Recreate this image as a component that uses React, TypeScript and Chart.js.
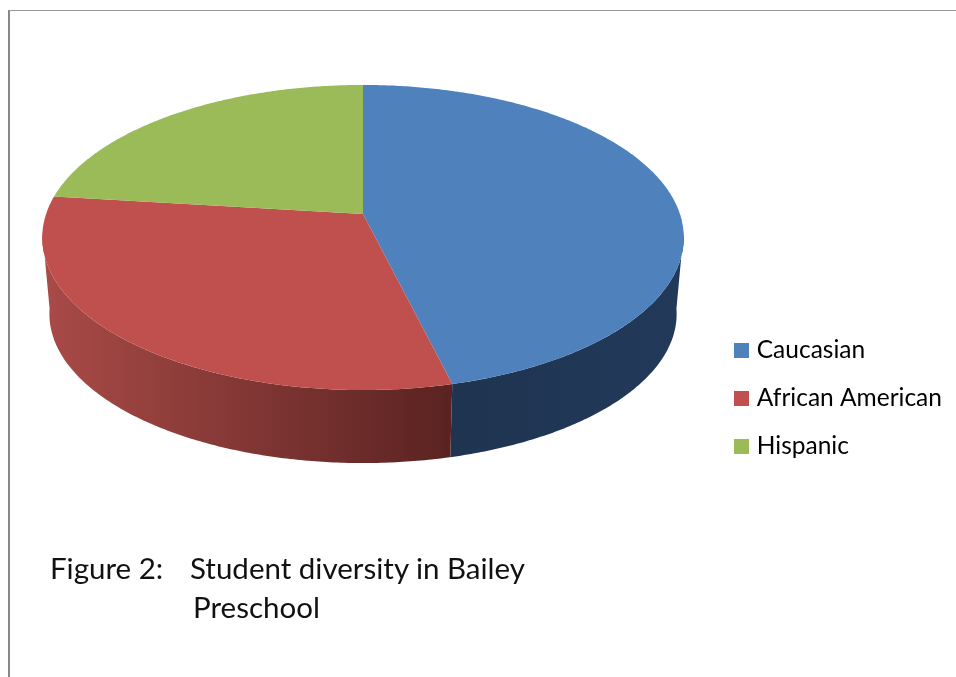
import React, { useEffect, useRef } from "react";
import { Chart, registerables } from "chart.js";

Chart.register(...registerables);

const categories = ["Caucasian", "African American", "Hispanic"];
const shares = [46.15, 30.75, 23.1];
const faceColors = ["#4F81BD", "#C0504D", "#9BBB59"];
const wallLeftColors = ["#1E3450", "#A84A47", "#6F8A3D"];
const wallRightColors = ["#22395A", "#5A2321", "#56702E"];
const captionLines = ["Figure 2:", "Student diversity in Bailey", "Preschool"];

const FONT = "Lato, Carlito, sans-serif";
const PERSPECTIVE = 0.154;

function rimPoint(arc: any, angle: number, level: number) {
  const r = arc.outerRadius;
  const u = Math.cos(angle);
  const v = Math.sin(angle);
  const w = 1 - PERSPECTIVE * v;
  const sx = level === 0 ? 1.481 : 1.448;
  const sy = level === 0 ? 0.696 : 0.68;
  const oy = level === 0 ? 0 : 0.36;
  return {
    x: arc.x + (r * sx * u) / w,
    y: arc.y + r * oy + (r * sy * v) / w,
  };
}

const pie3d = {
  id: "pie3d",
  afterLayout(chart: any) {
    const l = chart.legend;
    const dy = 184;
    l.top += dy;
    l.bottom += dy;
    const w = l.width;
    l.left = 715;
    l.right = l.left + w;
    (l.legendHitBoxes || []).forEach((b: any) => {
      b.top += dy;
    });
  },
  beforeDatasetDraw(chart: any) {
    const ctx = chart.ctx;
    const arcs = chart.getDatasetMeta(0).data;
    const STEP = 0.01;
    const lo = 0.12;
    const hi = Math.PI - 0.12;
    arcs.forEach((arc: any, i: number) => {
      const a0 = Math.max(arc.startAngle, lo);
      const a1 = Math.min(arc.endAngle, hi);
      if (a1 <= a0) return;
      const pTop0 = rimPoint(arc, a0, 0);
      ctx.beginPath();
      ctx.moveTo(pTop0.x, pTop0.y);
      for (let a = a0; a < a1; a += STEP) {
        const p = rimPoint(arc, a, 0);
        ctx.lineTo(p.x, p.y);
      }
      const e0 = rimPoint(arc, a1, 0);
      ctx.lineTo(e0.x, e0.y);
      for (let a = a1; a > a0; a -= STEP) {
        const p = rimPoint(arc, a, 1);
        ctx.lineTo(p.x, p.y);
      }
      const e1 = rimPoint(arc, a0, 1);
      ctx.lineTo(e1.x, e1.y);
      ctx.closePath();
      const xs = [rimPoint(arc, a0, 1).x, rimPoint(arc, a1, 1).x];
      const g = ctx.createLinearGradient(Math.min(...xs), 0, Math.max(...xs), 0);
      g.addColorStop(0, wallLeftColors[i]);
      g.addColorStop(1, wallRightColors[i]);
      ctx.fillStyle = g;
      ctx.fill();
    });
    arcs.forEach((arc: any, i: number) => {
      ctx.beginPath();
      ctx.moveTo(arc.x, arc.y);
      for (let a = arc.startAngle; a < arc.endAngle; a += STEP) {
        const p = rimPoint(arc, a, 0);
        ctx.lineTo(p.x, p.y);
      }
      const e = rimPoint(arc, arc.endAngle, 0);
      ctx.lineTo(e.x, e.y);
      ctx.closePath();
      ctx.fillStyle = faceColors[i];
      ctx.fill();
    });
    return false;
  },
};

function swatch(color: string) {
  const c = document.createElement("canvas");
  c.width = 15;
  c.height = 15;
  const x = c.getContext("2d")!;
  x.fillStyle = color;
  x.fillRect(0, 0, 15, 15);
  return c;
}

export default function App() {
  const ref = useRef<HTMLCanvasElement>(null);
  useEffect(() => {
    const chart = new Chart(ref.current!, {
      type: "pie",
      data: {
        labels: categories,
        datasets: [{ data: shares, backgroundColor: faceColors, borderWidth: 0 }],
      },
      options: {
        responsive: false,
        animation: false,
        events: [],
        layout: { padding: { bottom: 249, left: 7 } },
        plugins: {
          tooltip: { enabled: false },
          legend: {
            position: "right",
            labels: {
              usePointStyle: true,
              boxWidth: 6,
              boxHeight: 15,
              padding: 23.5,
              color: "#111",
              font: { family: FONT, size: 24.5 },
              generateLabels: () =>
                categories.map((t, i) => ({
                  text: t,
                  fillStyle: faceColors[i],
                  strokeStyle: faceColors[i],
                  lineWidth: 0,
                  pointStyle: swatch(faceColors[i]),
                  index: i,
                })),
            },
          },
        },
      },
      plugins: [pie3d],
    } as any);
    return () => chart.destroy();
  }, []);
  const cap: React.CSSProperties = {
    position: "absolute",
    fontFamily: FONT,
    fontSize: 29.5,
    lineHeight: "36px",
    color: "#111",
    whiteSpace: "pre",
  };
  return (
    <div style={{ position: "fixed", left: 0, top: 0, width: 956, height: 677, overflow: "hidden", background: "#fff" }}>
      <canvas ref={ref} width={956} height={677} style={{ position: "absolute", left: 0, top: 0, width: 956, height: 677 }} />
      <div style={{ position: "absolute", left: 8, top: 10, width: 948, height: 667, borderLeft: "2px solid #888", borderTop: "1px solid #999" }} />
      <div style={{ ...cap, left: 50, top: 550 }}>{captionLines[0]}</div>
      <div style={{ ...cap, left: 190, top: 550 }}>{captionLines[1]}</div>
      <div style={{ ...cap, left: 193, top: 589 }}>{captionLines[2]}</div>
    </div>
  );
}
